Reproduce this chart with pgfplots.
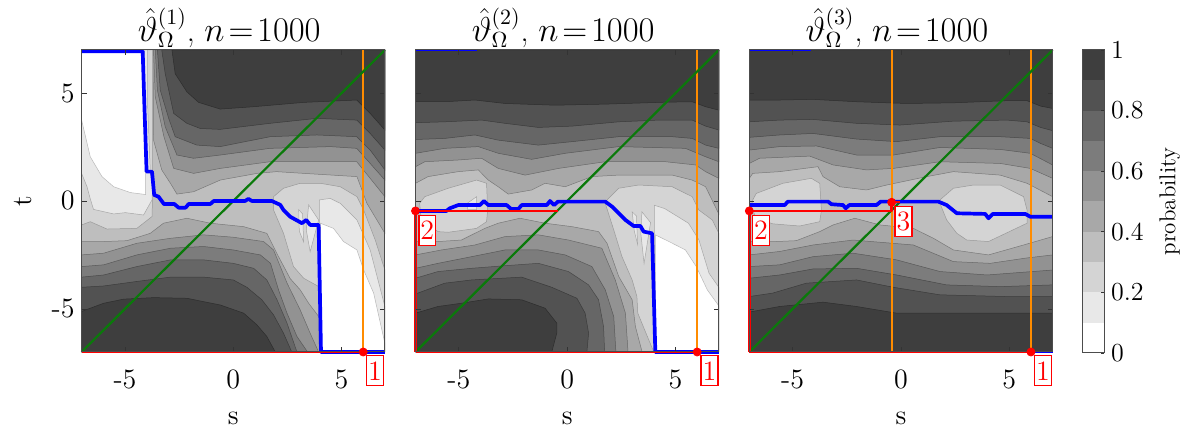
\documentclass[border=0pt]{standalone}
\usepackage{pgfplots}
\pgfplotsset{compat=1.18}
\definecolor{c1}{HTML}{E8E8E8}
\definecolor{c2}{HTML}{D4D4D4}
\definecolor{c3}{HTML}{BEBEBE}
\definecolor{c4}{HTML}{A8A8A8}
\definecolor{c5}{HTML}{929292}
\definecolor{c6}{HTML}{7C7C7C}
\definecolor{c7}{HTML}{666666}
\definecolor{c8}{HTML}{525252}
\definecolor{c9}{HTML}{3E3E3E}
\definecolor{myorange}{HTML}{FF8C00}
\definecolor{mygreen}{HTML}{0A7A0A}
\newcommand{\lev}[2]{\addplot[fill=#1,draw=#1!72!black,line width=.25pt] coordinates {#2} --cycle;}
\newcommand{\lin}[3]{\addplot[draw=#1,line width=#2,line join=round] coordinates {#3};}
\newcommand{\rdot}[1]{\addplot[only marks,mark=*,mark size=2pt,draw=red,fill=red,mark options={draw=red,fill=red}] coordinates {#1};}
\newcommand{\lbl}[2]{\node[draw=red,fill=white,text=red,line width=.7pt,inner sep=0pt,minimum width=8.4pt,minimum height=15pt,font=\fontsize{14}{15}\selectfont] at (axis cs:#1) {#2};}
\pgfplotsset{panel/.style={
  scale only axis,width=151.65pt,height=151pt,anchor=south west,clip=false,
  xmin=-7,xmax=7,ymin=-7,ymax=7,
  axis on top,
  axis line style={color=black!70,line width=.5pt},
  tick style={color=black!80,line width=.35pt},
  major tick length=2.5pt,
  tick align=inside,
  xtick={-5,0,5},xticklabels={-5,0,5},
  ytick={-5,0,5},
  xtick pos=both,ytick pos=both,
  xticklabel pos=lower,yticklabel pos=left,
  tick label style={font=\fontsize{14}{15}\selectfont},
  label style={font=\fontsize{14}{15}\selectfont},
  title style={font=\fontsize{16}{18}\selectfont,yshift=-8.5pt,xshift=-2pt},
  xticklabel style={yshift=-5.5pt},
  xlabel={s},
  xlabel style={yshift=-4.5pt},
  axis background/.style={fill=c3},
}}
\begin{document}
\begin{tikzpicture}
\useasboundingbox (0,0) rectangle (593.5pt,216pt);
% ---------- panel 1
\begin{axis}[panel,at={(40.8pt,40pt)},
  title={$\hat{\vartheta}_{\Omega}^{(1)}$, $n\!=\!1000$},
  yticklabels={-5,0,5},ylabel={t},ylabel style={yshift=3pt}]
% upper contours
\lev{c4}{(-3.7,7)(-3.68,2.82)(-3.3,1.44)(-2.9,.82)(-2.6,.32)(-1.83,.43)(-.6,.97)(1.1,1.28)(2,1.36)(3.25,1.28)(5.71,1.13)(6.17,-.11)(7,-1.5)(7,7)}
\lev{c5}{(-3.68,7)(-3.6,4.83)(-3.2,2.98)(-2.75,1.51)(-1.83,1.28)(-.6,1.51)(1.7,1.82)(4.48,1.82)(5.7,1.82)(6.32,1.05)(7,.2)(7,7)}
\lev{c6}{(-3.6,7)(-3.5,5.14)(-3.14,3.44)(-2.6,2.13)(-1.83,1.98)(-.6,2.13)(1.7,2.44)(4.48,2.52)(5.7,2.44)(6.32,1.74)(7,.97)(7,7)}
\lev{c7}{(-3.5,7)(-3.37,5.14)(-2.98,3.83)(-2.68,2.98)(-1.68,2.59)(-.6,2.52)(1.7,2.98)(3.86,3.06)(5.7,2.98)(6.32,2.36)(7,1.44)(7,7)}
\lev{c8}{(-3.3,7)(-3.14,5.9)(-2.75,4.06)(-2.14,3.6)(-1.52,3.36)(-.6,3.32)(1.7,3.6)(3.86,3.83)(5.7,3.75)(6.32,3.13)(7,2.36)(7,7)}
\lev{c9}{(-2.83,7)(-2.68,5.9)(-2.14,5.06)(-1.6,4.57)(-.6,4.26)(.94,4.37)(3.25,4.57)(5.7,4.68)(6.32,4.06)(7,3.29)(7,7)}
% lower contours
\lev{c4}{(-7,-1.88)(-5.98,-1.88)(-4.91,-1.84)(-3.83,-1.5)(-3.22,-1.03)(-2.14,-.8)(-1.06,-1.03)(.48,-1.19)(1.55,-1.5)(2.09,-2.58)(2.63,-3.6)(3.09,-4.12)(3.48,-4.74)(3.94,-5.35)(3.95,-7)(-7,-7)}
\lev{c5}{(-7,-2.5)(-5.98,-2.42)(-4.45,-1.96)(-2.9,-1.73)(-1.37,-1.57)(0,-1.68)(1.4,-1.88)(1.86,-2.27)(2.48,-3.8)(3.09,-5.05)(3.55,-6.13)(3.94,-7)(-7,-7)}
\lev{c6}{(-7,-3.04)(-5.98,-2.96)(-4.45,-2.5)(-2.9,-2.19)(-1.37,-2.11)(0,-2.27)(1.25,-2.5)(1.72,-2.89)(2.09,-4.12)(2.48,-5.2)(2.94,-6.28)(3.43,-7)(-7,-7)}
\lev{c7}{(-7,-3.53)(-5.98,-3.43)(-4.45,-3.04)(-2.9,-2.73)(-1.37,-2.73)(0,-2.89)(.94,-3.12)(1.55,-3.66)(2.02,-4.58)(2.48,-5.66)(2.94,-7)(-7,-7)}
\lev{c8}{(-7,-4)(-5.98,-3.94)(-4.45,-3.73)(-2.9,-3.53)(-1.37,-3.53)(0,-3.66)(.63,-4)(1.32,-4.58)(1.86,-5.28)(2.32,-6.13)(2.7,-7)(-7,-7)}
\lev{c9}{(-7,-5.12)(-5.98,-4.74)(-5.06,-4.55)(-3.68,-4.48)(-2.14,-4.51)(-.6,-4.82)(.48,-5.2)(1.09,-5.74)(1.55,-6.28)(1.94,-7)(-7,-7)}
% light regions
\lev{c2}{(-7,7)(-3.72,7)(-3.72,.3)(-3.75,-.72)(-4.45,-1.27)(-5.83,-1.3)(-6.6,-.96)(-7,-1.11)}
\lev{c2}{(1.86,.2)(2.32,.59)(3.09,.82)(4.02,.82)(4.94,.66)(5.71,.2)(6.02,-.42)(6.55,-1.8)(7,-3.2)(7,-7)(3.95,-7)(3.95,-3.97)(3.25,-3.58)(2.78,-3.04)(2.32,-1.5)(1.86,-.42)}
\lev{c1}{(-7,7)(-3.95,7)(-3.95,4.37)(-3.83,1.36)(-3.72,.66)(-3.75,.05)(-4.14,-.65)(-4.98,-.54)(-5.52,-.6)(-6.45,-.39)(-6.6,.1)(-6.75,.66)(-7,1.28)}
\lev{c1}{(3.98,.05)(4.48,.12)(4.94,-.11)(5.25,-.42)(5.71,-.88)(6.32,-2.27)(7,-4.89)(7,-7)(3.95,-7)}
\lev{c1}{(3.02,-.4)(3.2,-.6)(3.25,-1.9)(3.05,-1.4)}
\lev{c1}{(3.48,-.18)(3.94,-.88)(3.55,-2.35)(3.37,-1.34)}
\lev{white}{(-7,7)(-4.1,7)(-4.05,.3)(-4.75,.39)(-5.52,.66)(-6.06,1.13)(-6.6,2.05)(-7,3.75)}
\lev{white}{(4.02,-1.03)(4.63,-1.27)(5.09,-1.88)(5.71,-2.27)(6.02,-3.2)(6.48,-4.27)(7,-6.6)(7,-7)(4.02,-7)}
% lines
\lin{myorange}{.75pt}{(6,-7)(6,7)}
\lin{mygreen}{1.1pt}{(-7,-7)(7,7)}
\lin{blue}{1.85pt}{(-7,6.94)(-4.18,6.94)(-4.1,4.37)(-4,1.36)(-3.75,1.36)(-3.65,.28)(-3.45,.2)(-3.2,-.14)(-2.72,-.14)(-2.52,-.31)(-2.2,-.31)(-2.06,-.14)(-1.06,-.14)(-.9,0)(.55,0)(.7,.1)(.86,0)(1.78,0)(2.17,-.18)(2.32,-.42)(2.63,-.73)(3.17,-1.03)(3.37,-.88)(3.55,-1.11)(3.94,-1.11)(4.05,-7)(7,-7)}
\lin{red}{1.2pt}{(-7,-7)(6,-7)}
\rdot{(6,-7)}
\lbl{6.54,-7.87}{1}
\end{axis}
% ---------- panel 2
\begin{axis}[panel,at={(207.75pt,40pt)},
  title={$\hat{\vartheta}_{\Omega}^{(2)}$, $n\!=\!1000$},
  yticklabels={}]
\lev{c4}{(-7,.82)(-6.42,1.13)(-5.03,1.36)(-4.1,1.44)(-3.64,.97)(-3.18,.66)(-2.72,.32)(-1.64,.51)(-1.02,.82)(-.09,.66)(1.14,1.13)(2.38,1.2)(4.85,1.2)(5.77,.97)(6.39,.66)(7,-.6)(7,7)(-7,7)}
\lev{c5}{(-7,1.59)(-6.57,1.82)(-5.03,1.9)(-3.95,1.98)(-3.18,1.51)(-1.94,1.2)(-.4,1.51)(1.76,1.82)(4.54,1.82)(5.93,1.67)(6.39,1.36)(7,1.05)(7,7)(-7,7)}
\lev{c6}{(-7,2.21)(-5.65,2.44)(-4.1,2.52)(-3.18,2.21)(-1.64,1.93)(-.09,2.21)(2.38,2.52)(5.46,2.44)(6.39,2.05)(7,1.82)(7,7)(-7,7)}
\lev{c7}{(-7,2.85)(-5.65,2.9)(-4.26,3.06)(-3.18,2.82)(-1.33,2.59)(.22,2.75)(2.38,2.98)(4.85,2.98)(5.77,2.9)(6.39,2.59)(7,2.44)(7,7)(-7,7)}
\lev{c8}{(-7,3.63)(-5.65,3.67)(-3.95,3.75)(-2.87,3.6)(-1.33,3.41)(.22,3.47)(2.38,3.67)(4.23,3.75)(5.77,3.75)(6.39,3.47)(7,3.29)(7,7)(-7,7)}
\lev{c9}{(-7,4.6)(-5.65,4.6)(-4.26,4.68)(-2.87,4.52)(-.56,4.44)(1.76,4.49)(4.54,4.58)(5.77,4.6)(6.39,4.37)(7,4.21)(7,7)(-7,7)}
\lev{c4}{(-7,-1.88)(-5.96,-1.88)(-4.88,-1.81)(-3.8,-1.27)(-3.18,-1.03)(-2.18,-.8)(-1.02,-1.03)(.22,-1.19)(1.45,-1.42)(1.84,-1.96)(2.38,-3.5)(3,-4.58)(3.15,-5.82)(3.46,-7)(-7,-7)}
\lev{c5}{(-7,-2.5)(-5.8,-2.27)(-4.26,-2.04)(-2.87,-1.65)(-1.33,-1.57)(.06,-1.81)(1.6,-2.19)(2.22,-3.66)(2.69,-5.2)(2.81,-7)(-7,-7)}
\lev{c6}{(-7,-3.12)(-5.96,-2.89)(-4.41,-2.58)(-2.87,-2.27)(-1.33,-2.27)(-.09,-2.5)(1.14,-3.04)(1.76,-4.12)(2.15,-5.36)(2.25,-7)(-7,-7)}
\lev{c7}{(-7,-3.58)(-5.96,-3.27)(-4.41,-3.12)(-2.87,-3)(-1.33,-2.89)(.06,-3.27)(.99,-3.89)(1.45,-4.58)(1.68,-5.82)(1.73,-7)(-7,-7)}
\lev{c8}{(-7,-4.31)(-5.65,-3.81)(-4.41,-3.66)(-2.1,-3.53)(-.71,-4)(.45,-4.51)(.83,-5.2)(.99,-6.13)(.91,-7)(-7,-7)}
\lev{c9}{(-7,-5.2)(-5.96,-4.89)(-4.88,-4.74)(-3.64,-4.54)(-2.1,-4.58)(-1.02,-4.97)(-.48,-5.66)(-.48,-6.13)(-.71,-7)(-7,-7)}
\lev{c2}{(-6.81,-.11)(-6.57,.2)(-5.49,.59)(-4.18,.97)(-3.72,.82)(-3.67,-.42)(-3.72,-.96)(-4.18,-1.27)(-5.49,-1.45)(-5.96,-1.42)(-6.73,-.88)}
\lev{c1}{(-4.6,-.1)(-4.18,.2)(-4.18,-.4)(-4.6,-.4)}
\lev{c2}{(1.84,.05)(2.38,.59)(3.3,.74)(4.85,.66)(5.77,.2)(6.08,-.42)(6.7,-.88)(7,-1.5)(7,-7)(4,-7)(3.64,-6.13)(3.26,-5.2)(3.22,-4.43)(3,-3.66)(2.53,-2.58)(2.15,-1.34)(1.76,-.11)}
\lev{c1}{(4.03,-.2)(4.5,-.35)(5.6,-1.03)(6.08,-1.8)(6.55,-3.35)(7,-4)(7,-7)(4.03,-7)}
\lev{c1}{(3.0,-.5)(3.2,-.7)(3.25,-2)(3.1,-1.4)}
\lev{c1}{(3.45,-.5)(3.85,-1)(3.55,-2.9)(3.4,-1.5)}
\lev{white}{(4.07,-1.57)(4.7,-1.88)(5.46,-2.27)(5.96,-3.04)(6.47,-4.12)(7,-4.86)(7,-7)(4.07,-7)}
\lin{myorange}{.75pt}{(-7,-.46)(-7,7)}
\lin{myorange}{.75pt}{(6,-7)(6,7)}
\lin{mygreen}{1.1pt}{(-7,-7)(7,7)}
\lin{blue}{.8pt}{(-7,7)(-4.14,7)}
\lin{blue}{1.85pt}{(-7,-.46)(-5.57,-.46)(-5.42,-.34)(-5.03,-.19)(-4.03,-.19)(-3.84,0)(-3.64,-.19)(-2.79,-.19)(-2.59,-.37)(-2.25,-.37)(-2.1,-.19)(-.94,-.19)(-.79,0)(-.6,-.19)(-.43,-.03)(1.76,-.03)(2.07,-.26)(2.69,-.88)(3.07,-1.16)(3.38,-1.16)(3.53,-1.42)(3.92,-1.5)(4.07,-7)(7,-7)}
\lin{red}{1.2pt}{(-7,-7)(6,-7)}
\lin{red}{1.2pt}{(-7,-7)(-7,-.46)(-.43,-.46)}
\rdot{(6,-7)}
\rdot{(-7,-.46)}
\lbl{6.57,-7.87}{1}
\lbl{-6.46,-1.37}{2}
\end{axis}
% ---------- panel 3
\begin{axis}[panel,at={(374.65pt,40pt)},
  title={$\hat{\vartheta}_{\Omega}^{(3)}$, $n\!=\!1000$},
  yticklabels={}]
\lev{c4}{(-7,1.05)(-6.84,1.28)(-5.6,1.36)(-3.83,1.59)(-3.6,1.13)(-2.82,.66)(-1.59,.51)(-.66,.74)(1.19,1.13)(2.42,1.36)(4.58,1.2)(5.82,.82)(7,.2)(7,7)(-7,7)}
\lev{c5}{(-7,1.74)(-6.53,1.98)(-4.21,2.08)(-3.13,1.67)(-1.59,1.44)(-.35,1.51)(1.8,1.82)(4.58,1.74)(5.97,1.51)(7,1.05)(7,7)(-7,7)}
\lev{c6}{(-7,2.36)(-5.6,2.52)(-3.9,2.55)(-2.05,2.13)(-.35,2.13)(1.8,2.48)(4.58,2.39)(5.97,2.21)(7,1.67)(7,7)(-7,7)}
\lev{c7}{(-7,2.95)(-5.6,3.06)(-4.06,3.13)(-2.05,2.87)(-.2,2.75)(1.8,2.98)(4.58,2.98)(5.97,2.9)(6.44,2.67)(7,2.44)(7,7)(-7,7)}
\lev{c8}{(-7,3.67)(-5.6,3.75)(-4.06,3.78)(-2.05,3.6)(-.05,3.52)(2.42,3.7)(4.89,3.75)(5.82,3.67)(6.44,3.41)(7,3.26)(7,7)(-7,7)}
\lev{c9}{(-7,4.68)(-5.6,4.68)(-4.06,4.71)(-2.05,4.6)(.26,4.52)(2.42,4.55)(4.89,4.65)(5.82,4.65)(6.44,4.4)(7,4.29)(7,7)(-7,7)}
\lev{c4}{(-7,-1.88)(-5.77,-1.88)(-4.83,-1.84)(-3.75,-1.42)(-3.13,-1.11)(-2.13,-.8)(-.97,-1.11)(.57,-1.27)(1.5,-1.73)(2.42,-2.27)(4.04,-2.5)(5.66,-2.04)(7,-1.65)(7,-7)(-7,-7)}
\lev{c5}{(-7,-2.5)(-5.6,-2.34)(-4.06,-2.04)(-2.21,-1.81)(.57,-2.04)(2.42,-2.81)(4.12,-2.89)(5.74,-2.65)(7,-2.5)(7,-7)(-7,-7)}
\lev{c6}{(-7,-3.04)(-5.6,-2.96)(-4.06,-2.58)(-2.21,-2.42)(-.2,-2.73)(1.8,-3.27)(3.97,-3.43)(7,-3.2)(7,-7)(-7,-7)}
\lev{c7}{(-7,-3.58)(-5.6,-3.43)(-4.06,-3.15)(-2.05,-3.12)(-.2,-3.43)(2.11,-3.89)(4.58,-3.97)(7,-3.89)(7,-7)(-7,-7)}
\lev{c8}{(-7,-4.43)(-5.92,-4.27)(-4.37,-3.81)(-2.05,-3.66)(-.35,-4)(1.8,-4.35)(4.89,-4.43)(7,-4.43)(7,-7)(-7,-7)}
\lev{c9}{(-7,-5.15)(-5.6,-4.89)(-3.6,-4.69)(-2.05,-4.89)(-.2,-5.2)(2.42,-5.2)(7,-5.2)(7,-7)(-7,-7)}
\lev{c2}{(-6.84,.05)(-6.68,.35)(-5.45,.82)(-4.14,1.05)(-3.75,.82)(-3.67,-.42)(-3.75,-.96)(-4.68,-1.16)(-5.91,-1.06)(-6.68,-.8)(-6.91,-.26)}
\lev{c2}{(1.8,.05)(2.42,.59)(3.35,.74)(4.58,.74)(5.66,.2)(5.82,-.42)(5.82,-1.03)(4.04,-1.88)(3.04,-1.81)(2.58,-1.5)(2.11,-.88)(1.8,-.11)}
\lin{myorange}{.75pt}{(-7,-.46)(-7,7)}
\lin{myorange}{.75pt}{(6,-7)(6,7)}
\lin{myorange}{.85pt}{(-.43,-7)(-.43,7)}
\lin{mygreen}{1.1pt}{(-7,-7)(7,7)}
\lin{blue}{.8pt}{(-7,7)(-4.17,7)}
\lin{blue}{.8pt}{(6,-7)(7,-7)}
\lin{blue}{1.85pt}{(-7,-.19)(-5.37,-.19)(-5.22,-.03)(-3.36,-.03)(-3.21,-.15)(-2.67,-.19)(-2.55,-.34)(-2.39,-.19)(-1.13,-.19)(-.94,-.03)(1.73,-.03)(2.11,-.19)(2.58,-.57)(3.89,-.6)(4.04,-.8)(4.24,-.6)(5.74,-.6)(5.97,-.73)(7,-.73)}
\lin{red}{1.2pt}{(-7,-7)(6,-7)}
\lin{red}{1.2pt}{(-7,-7)(-7,-.46)(-.43,-.46)(-.43,-.06)(-.03,-.06)}
\rdot{(6,-7)}
\rdot{(-7,-.46)}
\rdot{(-.43,-.06)}
\lbl{6.55,-7.87}{1}
\lbl{-6.46,-1.37}{2}
\lbl{.12,-.95}{3}
\end{axis}
% ---------- colour bar
\begin{axis}[scale only axis,width=11pt,height=151.5pt,anchor=south west,at={(541pt,39.5pt)},
  xmin=0,xmax=1,ymin=0,ymax=1,axis on top,
  axis line style={color=black!70,line width=.5pt},
  tick style={color=black!80,line width=.35pt},
  major tick length=1.5pt,tick align=inside,
  xtick=\empty,ytick={0,.2,.4,.6,.8,1},yticklabels={0,0.2,0.4,0.6,0.8,1},
  ytick pos=right,yticklabel pos=right,
  tick label style={font=\fontsize{13}{15}\selectfont},
  ylabel={probability},ylabel near ticks,
  ylabel style={font=\fontsize{11.5}{13}\selectfont,yshift=-1pt}]
\addplot[fill=white,draw=none] coordinates {(0,0)(1,0)(1,.1)(0,.1)} --cycle;
\addplot[fill=c1,draw=none] coordinates {(0,.1)(1,.1)(1,.2)(0,.2)} --cycle;
\addplot[fill=c2,draw=none] coordinates {(0,.2)(1,.2)(1,.3)(0,.3)} --cycle;
\addplot[fill=c3,draw=none] coordinates {(0,.3)(1,.3)(1,.4)(0,.4)} --cycle;
\addplot[fill=c4,draw=none] coordinates {(0,.4)(1,.4)(1,.5)(0,.5)} --cycle;
\addplot[fill=c5,draw=none] coordinates {(0,.5)(1,.5)(1,.6)(0,.6)} --cycle;
\addplot[fill=c6,draw=none] coordinates {(0,.6)(1,.6)(1,.7)(0,.7)} --cycle;
\addplot[fill=c7,draw=none] coordinates {(0,.7)(1,.7)(1,.8)(0,.8)} --cycle;
\addplot[fill=c8,draw=none] coordinates {(0,.8)(1,.8)(1,.9)(0,.9)} --cycle;
\addplot[fill=c9,draw=none] coordinates {(0,.9)(1,.9)(1,1)(0,1)} --cycle;
\end{axis}
\end{tikzpicture}
\end{document}
